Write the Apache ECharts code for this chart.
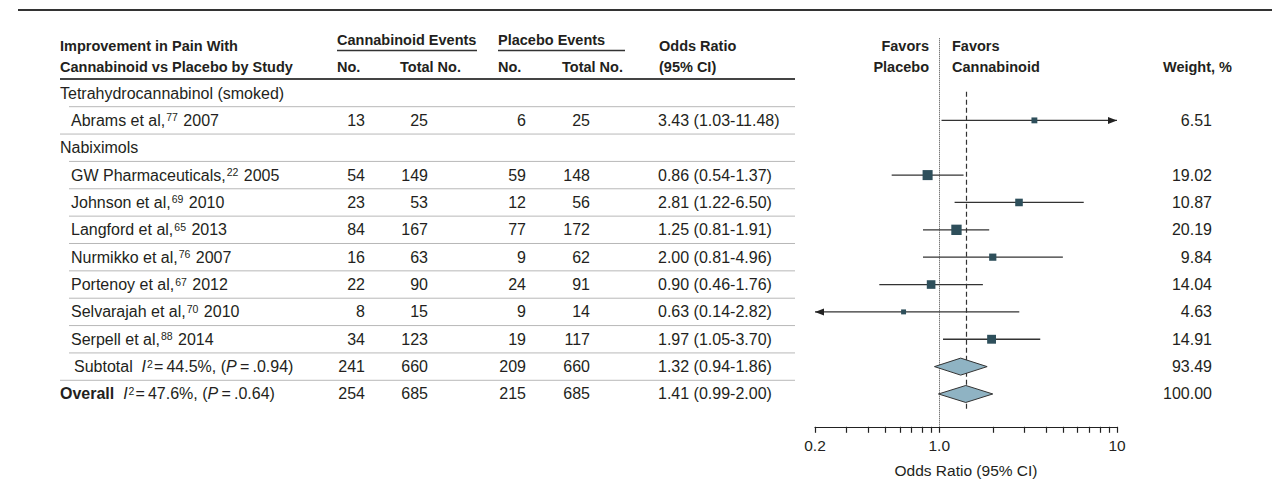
<!DOCTYPE html>
<html>
<head>
<meta charset="utf-8">
<title>Improvement in Pain With Cannabinoid vs Placebo</title>
<script src="https://cdn.jsdelivr.net/npm/echarts@6/dist/echarts.min.js"></script>
<style>
    html, body { margin: 0; padding: 0; background: #fff; }
    #chart { width: 1274px; height: 495px; }
</style>
</head>
<body>
<div id="chart"></div>
<script>
'use strict';

// study data
var groupNames = ['Tetrahydrocannabinol (smoked)', 'Nabiximols'];
var studyNames = ['Abrams et al,', 'GW Pharmaceuticals,', 'Johnson et al,', 'Langford et al,',
    'Nurmikko et al,', 'Portenoy et al,', 'Selvarajah et al,', 'Serpell et al,'];
var studyRefs = ['77', '22', '69', '65', '76', '67', '70', '88'];
var studyYears = ['2007', '2005', '2010', '2013', '2007', '2012', '2010', '2014'];
var studyGroup = [0, 1, 1, 1, 1, 1, 1, 1];
var cannNo = [13, 54, 23, 84, 16, 22, 8, 34];
var cannTotal = [25, 149, 53, 167, 63, 90, 15, 123];
var placNo = [6, 59, 12, 77, 9, 24, 9, 19];
var placTotal = [25, 148, 56, 172, 62, 91, 14, 117];
var oddsRatio = [3.43, 0.86, 2.81, 1.25, 2.00, 0.90, 0.63, 1.97];
var ciLower = [1.03, 0.54, 1.22, 0.81, 0.81, 0.46, 0.14, 1.05];
var ciUpper = [11.48, 1.37, 6.50, 1.91, 4.96, 1.76, 2.82, 3.70];
var weights = [6.51, 19.02, 10.87, 20.19, 9.84, 14.04, 4.63, 14.91];

// pooled estimates
var pooledNames = ['Subtotal', 'Overall'];
var pooledI2 = ['44.5%', '47.6%'];
var pooledP = ['.0.94', '.0.64'];
var pooledCannNo = [241, 254];
var pooledCannTotal = [660, 685];
var pooledPlacNo = [209, 215];
var pooledPlacTotal = [660, 685];
var pooledOR = [1.32, 1.41];
var pooledLower = [0.94, 0.99];
var pooledUpper = [1.86, 2.00];
var pooledWeight = [93.49, 100.00];

// axis
var axisTicks = [0.2, 0.3, 0.4, 0.5, 0.6, 0.7, 0.8, 0.9, 1, 2, 3, 4, 5, 6, 7, 8, 9, 10];
var axisLabelValues = [0.2, 1, 10];
var axisTickLabels = ['0.2', '1.0', '10'];

var LOG = function(v) { return Math.log10(v); };
var X_MIN = LOG(axisTicks[0]);
var X_MAX = LOG(axisTicks[axisTicks.length - 1]);

var FONT = "'Liberation Sans', Arial, sans-serif";
var INK = '#231f20';
var BODY = 16;
var HEAD = 14.5;

// table rows: group header, its studies, then pooled rows
var rows = [];
groupNames.forEach(function(g, gi) {
    rows.push({ kind: 'group', index: gi });
    studyGroup.forEach(function(sg, si) {
        if (sg === gi) rows.push({ kind: 'study', index: si });
    });
});
pooledNames.forEach(function(p, pi) {
    rows.push({ kind: 'pooled', index: pi });
});

var rowOf = function(kind, idx) {
    for (var r = 0; r < rows.length; r++) {
        if (rows[r].kind === kind && rows[r].index === idx) return r;
    }
    return -1;
};

var fmt2 = function(v) { return v.toFixed(2); };
var orText = function(o, lo, hi) { return fmt2(o) + ' (' + fmt2(lo) + '-' + fmt2(hi) + ')'; };

var chart = echarts.init(document.getElementById('chart'), null, { renderer: 'svg' });

var ciData = studyNames.map(function(n, i) {
    return [rowOf('study', i), LOG(ciLower[i]), LOG(ciUpper[i])];
});
var squareData = studyNames.map(function(n, i) {
    return [LOG(oddsRatio[i]), rowOf('study', i), weights[i]];
});
var diamondData = pooledNames.map(function(n, i) {
    return [rowOf('pooled', i), LOG(pooledLower[i]), LOG(pooledOR[i]), LOG(pooledUpper[i])];
});

function arrowHead(tip, dir) {
    var len = 9, half = 3.5;
    return {
        type: 'polygon',
        shape: { points: [tip, [tip[0] - dir * len, tip[1] - half], [tip[0] - dir * len, tip[1] + half]] },
        style: { fill: '#222' }
    };
}

function renderCI(params, api) {
    var row = api.value(0);
    var lo = api.value(1);
    var hi = api.value(2);
    var p1 = api.coord([Math.max(lo, X_MIN), row]);
    var p2 = api.coord([Math.min(hi, X_MAX), row]);
    var children = [{
        type: 'line',
        shape: { x1: p1[0], y1: p1[1], x2: p2[0], y2: p2[1] },
        style: { stroke: '#333', lineWidth: 1.3 }
    }];
    if (hi > X_MAX) children.push(arrowHead(p2, 1));
    if (lo < X_MIN) children.push(arrowHead(p1, -1));
    return { type: 'group', children: children };
}

function renderDiamond(params, api) {
    var row = api.value(0);
    var l = api.coord([api.value(1), row]);
    var c = api.coord([api.value(2), row]);
    var r = api.coord([api.value(3), row]);
    var h = 8.5;
    return {
        type: 'polygon',
        shape: { points: [l, [c[0], c[1] - h], r, [c[0], c[1] + h]] },
        style: { fill: '#8fb3c3', stroke: '#333', lineWidth: 1 }
    };
}

var option = {
    backgroundColor: '#fff',
    animation: false,
    textStyle: { fontFamily: FONT },
    grid: {
        left: 815,
        width: 302,
        top: 38.3,
        height: 388.5,
        outerBoundsMode: 'none',
        containLabel: false
    },
    xAxis: {
        type: 'value',
        min: X_MIN,
        max: X_MAX,
        splitLine: { show: false },
        axisLine: { show: true, onZero: false, lineStyle: { color: '#222', width: 1.2 } },
        axisTick: {
            show: true,
            inside: false,
            length: 6,
            customValues: axisTicks.map(LOG),
            lineStyle: { color: '#222', width: 1.2 }
        },
        axisLabel: {
            customValues: axisLabelValues.map(LOG),
            showMinLabel: true,
            showMaxLabel: true,
            margin: 11,
            color: INK,
            fontSize: 15.5,
            fontFamily: FONT,
            formatter: function(v) {
                for (var i = 0; i < axisLabelValues.length; i++) {
                    if (Math.abs(LOG(axisLabelValues[i]) - v) < 1e-6) return axisTickLabels[i];
                }
                return '';
            }
        },
        name: 'Odds Ratio (95% CI)',
        nameLocation: 'middle',
        nameGap: 36,
        nameTextStyle: { color: INK, fontSize: 15.5, fontFamily: FONT }
    },
    yAxis: {
        type: 'value',
        inverse: true,
        min: -2,
        max: 12.2,
        show: false
    },
    series: [{
        type: 'custom',
        name: 'CI',
        renderItem: renderCI,
        data: ciData,
        clip: false,
        silent: true,
        z: 3,
        markLine: {
            silent: true,
            symbol: 'none',
            label: { show: false },
            data: [
                { xAxis: 0, lineStyle: { type: 'dotted', color: '#444', width: 1 } },
                [
                    { coord: [LOG(pooledOR[1]), -0.05], lineStyle: { type: [5, 3], color: '#333', width: 1.2 } },
                    { coord: [LOG(pooledOR[1]), 11.6] }
                ]
            ]
        }
    }, {
        type: 'scatter',
        name: 'Odds ratio',
        data: squareData,
        symbol: 'rect',
        symbolSize: function(val) { return 2.3 * Math.sqrt(val[2]); },
        itemStyle: { color: '#2e4f5b', opacity: 1 },
        silent: true,
        z: 4
    }, {
        type: 'custom',
        name: 'Pooled',
        renderItem: renderDiamond,
        data: diamondData,
        clip: false,
        silent: true,
        z: 5
    }]
};

chart.setOption(option);

// table text positioned on the same row scale
var rowY = function(r) { return chart.convertToPixel({ gridIndex: 0 }, [0, r])[1]; };
var graphics = [];

function addText(x, y, text, align, opts) {
    opts = opts || {};
    graphics.push({
        type: 'text',
        x: x,
        y: y,
        silent: true,
        style: {
            text: text,
            fill: INK,
            fontFamily: FONT,
            fontSize: opts.size || BODY,
            fontWeight: opts.bold ? 'bold' : 'normal',
            align: align,
            verticalAlign: 'middle',
            rich: opts.rich
        }
    });
}

function addLine(x1, x2, y, color, width) {
    graphics.push({
        type: 'line',
        silent: true,
        shape: { x1: x1, y1: y, x2: x2, y2: y },
        style: { stroke: color, lineWidth: width }
    });
}

var richStyles = {
    n: { fontSize: BODY, fontFamily: FONT, fill: INK },
    b: { fontSize: BODY, fontFamily: FONT, fill: INK, fontWeight: 'bold' },
    i: { fontSize: BODY, fontFamily: FONT, fill: INK, fontStyle: 'italic' },
    s: { fontSize: 10.5, fontFamily: FONT, fill: INK, padding: [0, 1, 6, 1] }
};

// header
addLine(18, 1272, 10, '#333', 2);
addText(60, 45.5, 'Improvement in Pain With', 'left', { bold: true, size: HEAD });
addText(60, 67, 'Cannabinoid vs Placebo by Study', 'left', { bold: true, size: HEAD });
addText(337, 40, 'Cannabinoid Events', 'left', { bold: true, size: HEAD });
addLine(337, 477, 50.5, '#333', 1.5);
addText(498, 40, 'Placebo Events', 'left', { bold: true, size: HEAD });
addLine(498, 625, 50.5, '#333', 1.5);
addText(337, 67, 'No.', 'left', { bold: true, size: HEAD });
addText(400, 67, 'Total No.', 'left', { bold: true, size: HEAD });
addText(498, 67, 'No.', 'left', { bold: true, size: HEAD });
addText(562, 67, 'Total No.', 'left', { bold: true, size: HEAD });
addText(659, 45.5, 'Odds Ratio', 'left', { bold: true, size: HEAD });
addText(659, 67, '(95% CI)', 'left', { bold: true, size: HEAD });
addLine(60, 795, 79, '#444', 2);
addText(929, 45.5, 'Favors', 'right', { bold: true, size: HEAD });
addText(929, 67, 'Placebo', 'right', { bold: true, size: HEAD });
addText(952, 45.5, 'Favors', 'left', { bold: true, size: HEAD });
addText(952, 67, 'Cannabinoid', 'left', { bold: true, size: HEAD });
addText(1232, 67, 'Weight, %', 'right', { bold: true, size: HEAD });

// body rows
rows.forEach(function(row, r) {
    var y = rowY(r);
    var i = row.index;
    if (row.kind === 'group') {
        addText(60, y, groupNames[i], 'left');
    } else {
        var cols, label, x0, orStr, w;
        if (row.kind === 'study') {
            label = '{n|' + studyNames[i] + '}{s|' + studyRefs[i] + '}{n| ' + studyYears[i] + '}';
            x0 = 71;
            cols = [cannNo[i], cannTotal[i], placNo[i], placTotal[i]];
            orStr = orText(oddsRatio[i], ciLower[i], ciUpper[i]);
            w = weights[i];
        } else {
            label = '{' + (i === 1 ? 'b' : 'n') + '|' + pooledNames[i] + '  }{i|I}{s|2}{n|=\u2009' +
                pooledI2[i] + ', (}{i|P}{n|\u2009=\u2009' + pooledP[i] + ')}';
            x0 = i === 1 ? 60 : 74;
            cols = [pooledCannNo[i], pooledCannTotal[i], pooledPlacNo[i], pooledPlacTotal[i]];
            orStr = orText(pooledOR[i], pooledLower[i], pooledUpper[i]);
            w = pooledWeight[i];
        }
        addText(x0, y, label, 'left', { rich: richStyles });
        addText(365, y, String(cols[0]), 'right');
        addText(428, y, String(cols[1]), 'right');
        addText(526, y, String(cols[2]), 'right');
        addText(590, y, String(cols[3]), 'right');
        addText(658, y, orStr, 'left');
        addText(1212, y, fmt2(w), 'right');
    }
    if (r < rows.length - 1) {
        var next = rows[r + 1];
        var startX = (next.kind === 'group' || (next.kind === 'pooled' && next.index === 1)) ? 60 : 69;
        var ly = (y + rowY(r + 1)) / 2;
        addLine(startX, 795, ly, '#b8b8b8', 1);
    }
});

chart.setOption({ graphic: { elements: graphics } });
</script>
</body>
</html>
